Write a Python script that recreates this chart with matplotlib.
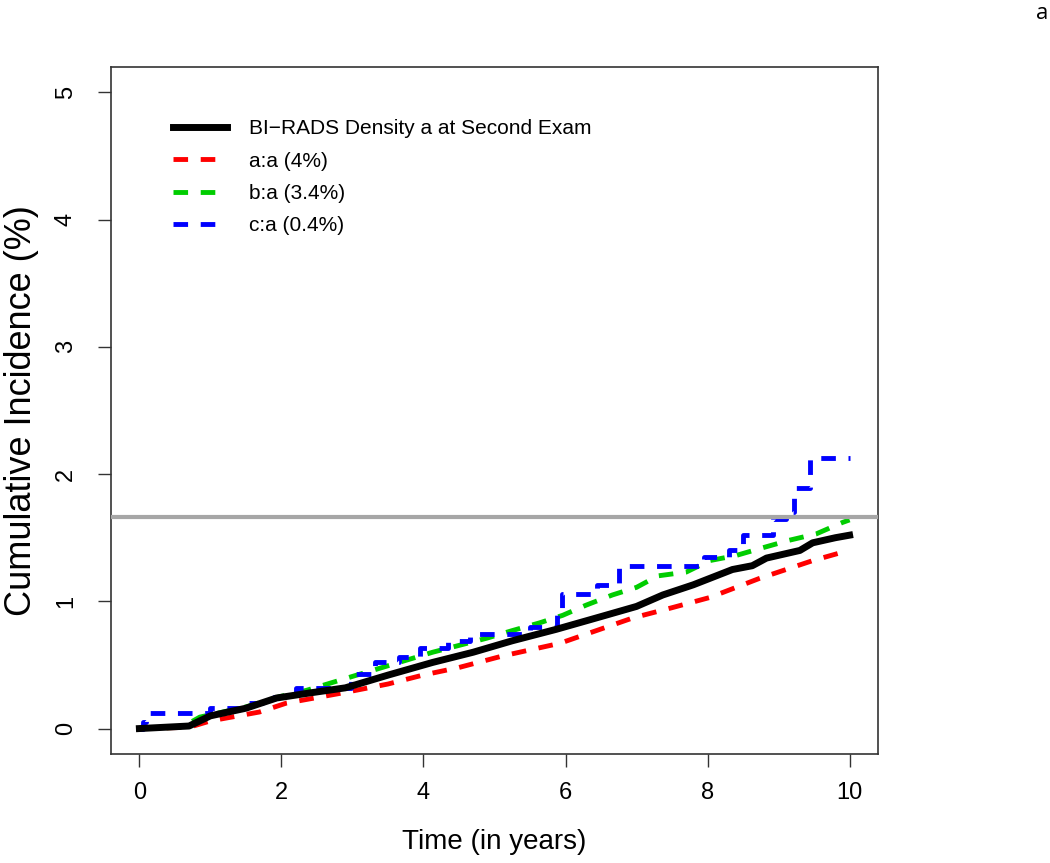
import matplotlib
matplotlib.use("Agg")
import matplotlib.pyplot as plt

# cumulative incidence curves (time in years, %)
black_t = [0, 0.7, 1.0, 1.5, 1.93, 2.4, 2.9, 3.5, 4.13, 4.7, 5.25, 5.87, 6.5,
           7.0, 7.37, 7.8, 8.35, 8.63, 8.83, 9.3, 9.48, 9.8, 10.0]
black_y = [0, 0.02, 0.10, 0.16, 0.24, 0.28, 0.32, 0.42, 0.52, 0.60, 0.69, 0.78,
           0.88, 0.96, 1.05, 1.13, 1.25, 1.28, 1.34, 1.40, 1.46, 1.50, 1.52]

red_t = [0, 0.7, 1.0, 1.69, 2.07, 2.86, 3.5, 3.99, 4.5, 5.11, 5.92, 6.95, 7.5,
         8.03, 8.73, 9.48, 9.86, 10.0]
red_y = [0, 0.01, 0.06, 0.13, 0.20, 0.28, 0.35, 0.42, 0.48, 0.57, 0.67, 0.87,
         0.95, 1.03, 1.18, 1.32, 1.38, 1.40]

green_t = [0, 0.6, 0.85, 1.5, 1.97, 2.35, 3.06, 3.42, 4.13, 4.89, 5.25, 5.63,
           5.96, 6.29, 6.66, 7.0, 7.3, 7.7, 8.03, 8.4, 8.77, 9.15, 9.53, 9.9, 10.0]
green_y = [0, 0.01, 0.09, 0.17, 0.25, 0.30, 0.42, 0.48, 0.60, 0.71, 0.77, 0.83,
           0.89, 0.97, 1.05, 1.11, 1.20, 1.23, 1.32, 1.36, 1.42, 1.48, 1.53, 1.62, 1.64]

# blue one is a step function
blue_t = [0, 0.05, 0.1, 1.0, 1.5, 1.9, 2.2, 2.98, 3.32, 3.65, 3.95, 4.35, 4.65,
          5.5, 5.88, 5.95, 6.45, 6.75, 7.95, 8.3, 8.5, 8.92, 9.1, 9.22, 9.44, 10.0]
blue_y = [0, 0.05, 0.12, 0.16, 0.20, 0.25, 0.32, 0.43, 0.52, 0.56, 0.63, 0.69,
          0.74, 0.80, 0.93, 1.06, 1.13, 1.28, 1.35, 1.40, 1.52, 1.65, 1.70, 1.89,
          2.13, 2.13]

ref_level = 1.66

labels = ["BI\u2212RADS Density a at Second Exam", "a:a (4%)", "b:a (3.4%)", "c:a (0.4%)"]
xticks = [0, 2, 4, 6, 8, 10]
yticks = [0, 1, 2, 3, 4, 5]

plt.rcParams["font.family"] = ["Liberation Sans", "DejaVu Sans"]

fig = plt.figure(figsize=(10.5, 8.63), dpi=100)
ax = fig.add_axes([0.1057, 0.1263, 0.7305, 0.7961])

dash = (3.0, 2.6)
ax.plot(black_t, black_y, color="black", lw=5, label=labels[0], zorder=5)
ax.plot(red_t, red_y, color="#ff0000", lw=3.5, dashes=dash, label=labels[1])
ax.plot(green_t, green_y, color="#00cd00", lw=3.5, dashes=dash, label=labels[2])
ax.step(blue_t, blue_y, where="post", color="#0000ff", lw=3.5, dashes=dash,
        label=labels[3])
ax.axhline(ref_level, color="#a6a6a6", lw=3, zorder=6)

ax.set_xlim(-0.4, 10.4)
ax.set_ylim(-0.2, 5.2)
ax.set_xticks(xticks)
ax.set_yticks(yticks)
ax.tick_params(direction="out", length=9.5, width=1, color="#333333",
               labelsize=17)
ax.tick_params(axis="x", pad=11)
ax.tick_params(axis="y", pad=15)
plt.setp(ax.get_yticklabels(), rotation=90, va="center")
for s in ax.spines.values():
    s.set_color("#333333")
    s.set_linewidth(1.2)

ax.set_xlabel("Time (in years)", fontsize=20, labelpad=18)
ax.set_ylabel("Cumulative Incidence (%)", fontsize=26)
ax.yaxis.set_label_coords(-0.094, 0.5)

leg = ax.legend(loc="upper left", bbox_to_anchor=(0.081, 0.924), frameon=False,
                fontsize=15, handlelength=2.6, handletextpad=1.05,
                labelspacing=0.64, borderpad=0, borderaxespad=0)

fig.text(0.993, 0.984, "a", fontsize=16, ha="center", va="center",
         family=["Open Sans", "DejaVu Sans"])

fig.savefig("out.png", dpi=100)
